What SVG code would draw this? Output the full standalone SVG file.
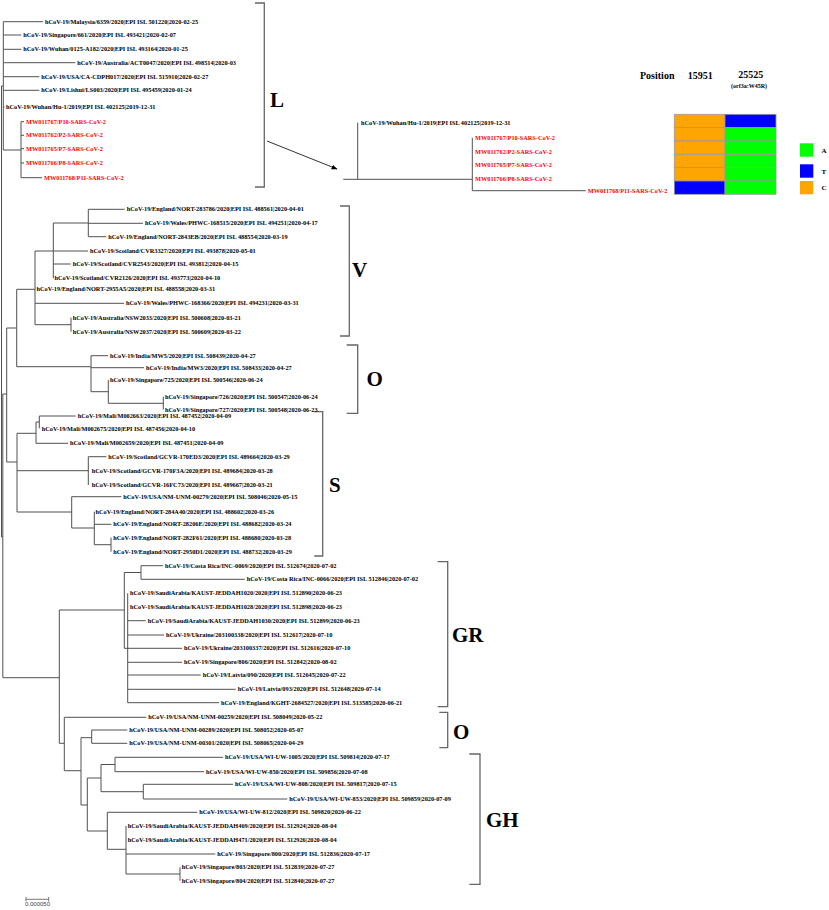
<svg xmlns="http://www.w3.org/2000/svg" width="829" height="910" viewBox="0 0 829 910">
<defs>
<marker id="ah" viewBox="0 0 10 10" refX="9" refY="5" markerWidth="6" markerHeight="6" orient="auto" markerUnits="userSpaceOnUse"><path d="M0,1 L10,5 L0,9 Z" fill="#000"/></marker>
</defs>
<style>
.b{fill:none;stroke:#505050;stroke-width:1}
.br{fill:none;stroke:#666;stroke-width:1.3}
text{font-family:"Liberation Serif","Times New Roman",serif;font-weight:bold}
.t{font-size:6.3px;fill:#000}
.r{font-size:6.3px;fill:#f00}
.c{font-size:21px;fill:#000}
.h{font-size:10px;fill:#000}
.lg{font-size:7px;fill:#000}
</style>
<rect width="829" height="910" fill="#fff"/>
<g id="connectors">
<path class="b" d="M3.3,21.7V150 M3.3,21.7H43 M3.3,35H21.3 M3.3,49.3H21.3 M3.3,62.7H75.3 M3.3,76.7H39.3 M3.3,90.3H39.3 M3.3,107H4.5 M3.3,150H21 M21,121.7V177.7 M21,177.7H42 M21,121.7H24 M21,135.3H24 M21,148.7H24 M21,163H24"/>
<path class="b" d="M1.5,86V537 M1.5,86H3.3 M2.8,394V677.7 M1.5,537H2.8 M2.8,394H6.7 M2.8,677.7H59.3"/>
<path class="b" d="M88.3,209.3V236.7 M88.3,209.3H124.7 M88.3,223.3H143 M88.3,236.7H106.3 M53.3,223H88.3 M53.3,223V278.3 M53.3,251H88 M53.3,264H70.7 M35,251V324.7 M35,251H53.3 M35,303.3H124 M35,324.7H71 M71,317.7V331.7 M16.7,289.3V366.7 M16.7,289.3H35 M16.7,366.7H91"/>
<path class="b" d="M91,355.7V391.7 M91,355.7H108 M91,367.7H144 M91,391.7H108.3 M108.3,380V403.3 M108.3,403.3H163.3 M163.3,396.7V409.5 M6.7,328V462 M6.7,328H16.7"/>
<path class="b" d="M39.3,416V428.3 M39.3,416H75.7 M36,422V443.3 M36,422H39.3 M36,443.3H68 M17,433.3H36 M88.3,456.7V485 M88.3,456.7H106.3 M17,470.7H88.3 M71.7,496.7V528 M71.7,496.7H121.3 M94.3,511.7V544.7 M94.3,524.3H111.3 M94.3,544.7H111 M111,537.7V551.7 M71.7,528H94.3 M17,512H71.7 M17,433.3V512 M6.7,462H17"/>
<path class="b" d="M141,565.7V579.3 M141,565.7H163 M141,579.3H244.7 M124.3,572.5H141 M124.3,572.5V648.3 M59.3,610H124.3 M127.7,593.3V702.7 M127.7,620.7H145.7 M127.7,635H164 M124.3,648.3H182 M127.7,662.3H182 M127.7,675H200.7 M127.7,689.3H235.7 M127.7,702.7H219"/>
<path class="b" d="M59.3,610V743.3 M59.3,743.3H64.3 M64.3,717.3V770.7 M64.3,717.3H146.3 M91.7,730V743.3 M91.7,730H127.3 M91.7,743.3H127.3 M81,737.7H91.7 M81,737.7V805 M64.3,770.7H81"/>
<path class="b" d="M115,757.3V771.7 M115,757.3H223 M115,771.7H204 M143.3,784.3V799 M143.3,784.3H233 M143.3,799H287.3 M101,764.5V791.7 M101,764.5H115 M101,791.7H143.3 M87.3,778V831 M87.3,778H101 M81,805H87.3 M107.3,812.3V849.3 M107.3,812.3H197.3 M87.3,831H107.3 M126,826V874 M126,854H215.3 M107.3,849.3H126 M126,874H180 M180,867.3V880.7"/>
<path class="br" d="M255,3H264.3V187H255 M340,206H349.3V336H340 M346.7,345H357.7V413.3H346.7 M314.3,411.7H322.7V556H314.3 M437.7,561.7H447.7V706.7H437.7 M439.3,712.3H447.7V747.7H439.3 M469.3,754H480V884.3H469.3"/>
<path class="b" d="M343.3,179.3H472.3 M357.7,122.7V179.3 M472.3,137.7V190.7 M472.3,190.7H585.7"/>
<line x1="267" y1="141" x2="337" y2="169" stroke="#333" stroke-width="1" marker-end="url(#ah)"/>
</g>
<g id="clade-L">
<text class="t" x="45" y="23.8">hCoV-19/Malaysia/6359/2020|EPI ISL 501220|2020-02-25</text>
<text class="t" x="23.3" y="37.1">hCoV-19/Singapore/661/2020|EPI ISL 493421|2020-02-07</text>
<text class="t" x="23.3" y="51.4">hCoV-19/Wuhan/0125-A182/2020|EPI ISL 493164|2020-01-25</text>
<text class="t" x="77.3" y="64.8">hCoV-19/Australia/ACT0047/2020|EPI ISL 498514|2020-03</text>
<text class="t" x="41.3" y="78.8">hCoV-19/USA/CA-CDPH017/2020|EPI ISL 515910|2020-02-27</text>
<text class="t" x="41.3" y="92.4">hCoV-19/Lishui/LS003/2020|EPI ISL 495459|2020-01-24</text>
<text class="t" x="6" y="109.1">hCoV-19/Wuhan/Hu-1/2019|EPI ISL 402125|2019-12-31</text>
<text class="r" x="26" y="123.8">MW011767/P10-SARS-CoV-2</text>
<text class="r" x="26" y="137.4">MW011762/P2-SARS-CoV-2</text>
<text class="r" x="26" y="150.8">MW011765/P7-SARS-CoV-2</text>
<text class="r" x="26" y="165.1">MW011766/P8-SARS-CoV-2</text>
<text class="r" x="44" y="179.8">MW011768/P11-SARS-CoV-2</text>
<text class="c" x="270" y="107">L</text>
</g>
<g id="clade-V">
<text class="t" x="126.7" y="211.4">hCoV-19/England/NORT-283786/2020|EPI ISL 488561|2020-04-01</text>
<text class="t" x="145" y="225.4">hCoV-19/Wales/PHWC-168515/2020|EPI ISL 494251|2020-04-17</text>
<text class="t" x="108.3" y="238.8">hCoV-19/England/NORT-2843EB/2020|EPI ISL 488554|2020-03-19</text>
<text class="t" x="90" y="253.1">hCoV-19/Scotland/CVR3327/2020|EPI ISL 493878|2020-05-01</text>
<text class="t" x="72.7" y="266.1">hCoV-19/Scotland/CVR2543/2020|EPI ISL 493812|2020-04-15</text>
<text class="t" x="54.5" y="280.4">hCoV-19/Scotland/CVR2126/2020|EPI ISL 493773|2020-04-10</text>
<text class="t" x="36.5" y="291.4">hCoV-19/England/NORT-2955A5/2020|EPI ISL 488558|2020-03-31</text>
<text class="t" x="126" y="305.4">hCoV-19/Wales/PHWC-168366/2020|EPI ISL 494231|2020-03-31</text>
<text class="t" x="72.7" y="319.8">hCoV-19/Australia/NSW2033/2020|EPI ISL 500608|2020-03-21</text>
<text class="t" x="72.7" y="333.8">hCoV-19/Australia/NSW2037/2020|EPI ISL 500609|2020-03-22</text>
<text class="c" x="352" y="277">V</text>
</g>
<g id="clade-O1">
<text class="t" x="110" y="357.8">hCoV-19/India/MW5/2020|EPI ISL 508439|2020-04-27</text>
<text class="t" x="146" y="369.8">hCoV-19/India/MW3/2020|EPI ISL 508433|2020-04-27</text>
<text class="t" x="110" y="382.1">hCoV-19/Singapore/725/2020|EPI ISL 500546|2020-06-24</text>
<text class="t" x="165" y="398.6">hCoV-19/Singapore/726/2020|EPI ISL 500547|2020-06-24</text>
<text class="t" x="165" y="411.5">hCoV-19/Singapore/727/2020|EPI ISL 500548|2020-06-23</text>
<text class="c" x="366.5" y="385.5">O</text>
</g>
<g id="clade-S">
<text class="t" x="77.7" y="418.2">hCoV-19/Mali/M002663/2020|EPI ISL 487452|2020-04-09</text>
<text class="t" x="41.7" y="430.6">hCoV-19/Mali/M002675/2020|EPI ISL 487456|2020-04-10</text>
<text class="t" x="70" y="445.4">hCoV-19/Mali/M002659/2020|EPI ISL 487451|2020-04-09</text>
<text class="t" x="108.3" y="458.8">hCoV-19/Scotland/GCVR-170ED3/2020|EPI ISL 489664|2020-03-29</text>
<text class="t" x="91.7" y="472.8">hCoV-19/Scotland/GCVR-170F3A/2020|EPI ISL 489684|2020-03-28</text>
<text class="t" x="91.7" y="487.1">hCoV-19/Scotland/GCVR-16FC73/2020|EPI ISL 489667|2020-03-21</text>
<text class="t" x="123.3" y="498.8">hCoV-19/USA/NM-UNM-00279/2020|EPI ISL 508046|2020-05-15</text>
<text class="t" x="95.5" y="513.8">hCoV-19/England/NORT-284A40/2020|EPI ISL 488602|2020-03-26</text>
<text class="t" x="113.3" y="526.4">hCoV-19/England/NORT-28206E/2020|EPI ISL 488682|2020-03-24</text>
<text class="t" x="113.3" y="539.8">hCoV-19/England/NORT-282F61/2020|EPI ISL 488680|2020-03-28</text>
<text class="t" x="113.3" y="553.8">hCoV-19/England/NORT-2950D1/2020|EPI ISL 488732|2020-03-29</text>
<text class="c" x="329" y="492">S</text>
</g>
<g id="clade-GR">
<text class="t" x="165" y="567.8">hCoV-19/Costa Rica/INC-0069/2020|EPI ISL 512674|2020-07-02</text>
<text class="t" x="246.7" y="581.4">hCoV-19/Costa Rica/INC-0066/2020|EPI ISL 512846|2020-07-02</text>
<text class="t" x="130" y="595.4">hCoV-19/SaudiArabia/KAUST-JEDDAH1020/2020|EPI ISL 512890|2020-06-23</text>
<text class="t" x="130" y="608.8">hCoV-19/SaudiArabia/KAUST-JEDDAH1028/2020|EPI ISL 512898|2020-06-23</text>
<text class="t" x="147.7" y="622.8">hCoV-19/SaudiArabia/KAUST-JEDDAH1030/2020|EPI ISL 512899|2020-06-23</text>
<text class="t" x="166" y="637.1">hCoV-19/Ukraine/203100338/2020|EPI ISL 512617|2020-07-10</text>
<text class="t" x="184" y="650.4">hCoV-19/Ukraine/203100337/2020|EPI ISL 512616|2020-07-10</text>
<text class="t" x="184" y="664.4">hCoV-19/Singapore/806/2020|EPI ISL 512842|2020-08-02</text>
<text class="t" x="202.7" y="677.1">hCoV-19/Latvia/090/2020|EPI ISL 512645|2020-07-22</text>
<text class="t" x="237.7" y="691.4">hCoV-19/Latvia/093/2020|EPI ISL 512648|2020-07-14</text>
<text class="t" x="221" y="704.8">hCoV-19/England/KGHT-2684527/2020|EPI ISL 513585|2020-06-21</text>
<text class="c" x="452" y="641.5">GR</text>
</g>
<g id="clade-O2">
<text class="t" x="148.3" y="719.4">hCoV-19/USA/NM-UNM-00259/2020|EPI ISL 508049|2020-05-22</text>
<text class="t" x="129.3" y="732.1">hCoV-19/USA/NM-UNM-00289/2020|EPI ISL 508052|2020-05-07</text>
<text class="t" x="129.3" y="745.4">hCoV-19/USA/NM-UNM-00301/2020|EPI ISL 508065|2020-04-29</text>
<text class="c" x="453" y="739">O</text>
</g>
<g id="clade-GH">
<text class="t" x="225" y="759.4">hCoV-19/USA/WI-UW-1005/2020|EPI ISL 509814|2020-07-17</text>
<text class="t" x="206" y="773.8">hCoV-19/USA/WI-UW-850/2020|EPI ISL 509856|2020-07-08</text>
<text class="t" x="235" y="786.4">hCoV-19/USA/WI-UW-808/2020|EPI ISL 509817|2020-07-15</text>
<text class="t" x="289.3" y="801.1">hCoV-19/USA/WI-UW-853/2020|EPI ISL 509859|2020-07-09</text>
<text class="t" x="199.3" y="814.4">hCoV-19/USA/WI-UW-812/2020|EPI ISL 509820|2020-06-22</text>
<text class="t" x="127.7" y="828.1">hCoV-19/SaudiArabia/KAUST-JEDDAH469/2020|EPI ISL 512924|2020-08-04</text>
<text class="t" x="127.7" y="842.1">hCoV-19/SaudiArabia/KAUST-JEDDAH471/2020|EPI ISL 512926|2020-08-04</text>
<text class="t" x="217.3" y="856.1">hCoV-19/Singapore/800/2020|EPI ISL 512836|2020-07-17</text>
<text class="t" x="181.7" y="869.4">hCoV-19/Singapore/803/2020|EPI ISL 512839|2020-07-27</text>
<text class="t" x="181.7" y="882.8">hCoV-19/Singapore/804/2020|EPI ISL 512840|2020-07-27</text>
<text class="c" x="486" y="826.5">GH</text>
</g>
<g id="inset-tree">
<text class="t" x="361" y="124.8">hCoV-19/Wuhan/Hu-1/2019|EPI ISL 402125|2019-12-31</text>
<text class="r" x="475" y="139.8">MW011767/P10-SARS-CoV-2</text>
<text class="r" x="475" y="153.8">MW011762/P2-SARS-CoV-2</text>
<text class="r" x="475" y="167.1">MW011765/P7-SARS-CoV-2</text>
<text class="r" x="475" y="181.1">MW011766/P8-SARS-CoV-2</text>
<text class="r" x="587.7" y="192.8">MW011768/P11-SARS-CoV-2</text>
</g>
<g id="snp-table">
<text class="h" x="640" y="78.5">Position</text>
<text class="h" x="687.7" y="78.5">15951</text>
<text class="h" x="738.3" y="77.5">25525</text>
<text x="731" y="87.6" style="font-size:6px">(orf3a:W45R)</text>
<g stroke="#9a9a9a" stroke-width="0.8">
<rect x="674.3" y="114.3" width="50.7" height="13.4" fill="#FFA500"/>
<rect x="674.3" y="127.7" width="50.7" height="13.3" fill="#FFA500"/>
<rect x="674.3" y="141" width="50.7" height="13.3" fill="#FFA500"/>
<rect x="674.3" y="154.3" width="50.7" height="13.4" fill="#FFA500"/>
<rect x="674.3" y="167.7" width="50.7" height="13.3" fill="#FFA500"/>
<rect x="674.3" y="181" width="50.7" height="13.3" fill="#0000FF"/>
<rect x="725" y="114.3" width="51" height="13.4" fill="#0000FF"/>
<rect x="725" y="127.7" width="51" height="13.3" fill="#00FF00"/>
<rect x="725" y="141" width="51" height="13.3" fill="#00FF00"/>
<rect x="725" y="154.3" width="51" height="13.4" fill="#00FF00"/>
<rect x="725" y="167.7" width="51" height="13.3" fill="#00FF00"/>
<rect x="725" y="181" width="51" height="13.3" fill="#00FF00"/>
</g>
</g>
<g id="legend">
<rect x="800" y="143.3" width="13.3" height="13.4" fill="#00FF00"/>
<text class="lg" x="821.5" y="152.5">A</text>
<rect x="800" y="164.3" width="13.3" height="13.4" fill="#0000FF"/>
<text class="lg" x="821.5" y="173.5">T</text>
<rect x="800" y="181" width="13.3" height="13.3" fill="#FFA500"/>
<text class="lg" x="821.5" y="190.2">C</text>
</g>
<g id="scale-bar">
<path d="M26,899.3H48.7 M26,897V901.5 M48.7,897V901.5" stroke="#555" stroke-width="0.8" fill="none"/>
<text x="25" y="906.3" style="font-family:'Liberation Sans',Arial,sans-serif;font-weight:normal;font-size:6px;fill:#444">0.000050</text>
</g>
</svg>
